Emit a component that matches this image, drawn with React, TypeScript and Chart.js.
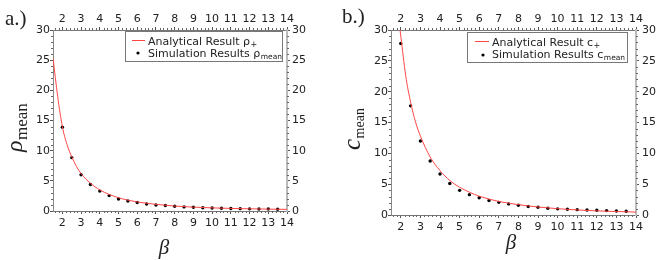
import React, { useEffect, useRef } from "react";
import { Chart, registerables } from "chart.js";
Chart.register(...registerables);

// ---- data ----
const xTickValues = [2, 3, 4, 5, 6, 7, 8, 9, 10, 11, 12, 13, 14];
const yTickValues = [0, 5, 10, 15, 20, 25, 30];

const betaSim = [2, 2.5, 3, 3.5, 4, 4.5, 5, 5.5, 6, 6.5, 7, 7.5, 8, 8.5, 9, 9.5, 10, 10.5, 11, 11.5, 12, 12.5, 13, 13.5];
const rhoSim = [13.9, 8.85, 6.0, 4.4, 3.3, 2.55, 2.0, 1.65, 1.42, 1.15, 1.0, 0.9, 0.78, 0.68, 0.62, 0.55, 0.5, 0.46, 0.42, 0.39, 0.36, 0.34, 0.32, 0.3];
const cSim = [27.8, 17.7, 12.0, 8.76, 6.65, 5.1, 4.0, 3.3, 2.8, 2.35, 2.05, 1.8, 1.57, 1.37, 1.25, 1.1, 1.0, 0.93, 0.87, 0.82, 0.76, 0.71, 0.66, 0.62];

const betaLineA = [1.5, 1.75, 2, 2.25, 2.5, 2.75, 3, 3.5, 4, 4.5, 5, 5.5, 6, 7, 8, 9, 10, 11, 12, 13, 14];
const rhoLine = [25.4, 19.0, 14.0, 11.0, 9.0, 7.4, 6.2, 4.6, 3.5, 2.75, 2.2, 1.8, 1.5, 1.1, 0.82, 0.64, 0.52, 0.43, 0.36, 0.31, 0.27];

const betaLineB = [1.96, 2, 2.25, 2.5, 2.75, 3, 3.5, 4, 4.5, 5, 5.5, 6, 7, 8, 9, 10, 11, 12, 13, 14];
const cLine = [30, 29.0, 22.6, 18.3, 15.1, 12.8, 9.4, 7.2, 5.6, 4.5, 3.7, 3.05, 2.2, 1.68, 1.3, 1.02, 0.82, 0.67, 0.56, 0.47];

const X_MIN = 1.5;
const X_MAX = 14;
const Y_MIN = 0;
const Y_MAX = 30;
const X_MINOR_STEP = 0.2;
const Y_MINOR_STEP = 1;

const TICK_FONT = { family: "DejaVu Sans", size: 11 };
const TEXT_COLOR = "#222";
const RED = "rgb(255,70,70)";

type Panel = {
  letter: string;
  letterX: number;
  letterY: number;
  sym: string;
  symFont: number;
  subFont: number;
  yTitleX: number;
  yTitleY: number;
  subDy: number;
  betaX: number;
  betaY: number;
  area: { left: number; right: number; top: number; bottom: number };
  leftPad: number;
  rightPad: number;
  legend: { x1: number; y1: number; x2: number; y2: number; sx1: number; sx2: number; sy: number; dotX: number; dotY: number; tx: number; r1: number; r2: number };
  lineX: number[];
  lineY: number[];
  simY: number[];
};

const panels: Panel[] = [
  {
    letter: "a.)", letterX: 5, letterY: 25,
    sym: "ρ", symFont: 24, subFont: 17, yTitleX: 22, yTitleY: 152, subDy: 5,
    betaX: 164, betaY: 254,
    area: { left: 53, right: 287, top: 30, bottom: 211 },
    leftPad: 0, rightPad: 2,
    legend: { x1: 125.5, y1: 31.5, x2: 282.5, y2: 61.5, sx1: 132, sx2: 145, sy: 40.5, dotX: 138, dotY: 53, tx: 148, r1: 45, r2: 57 },
    lineX: betaLineA, lineY: rhoLine, simY: rhoSim,
  },
  {
    letter: "b.)", letterX: 10, letterY: 23,
    sym: "c", symFont: 25, subFont: 14, yTitleX: 28, yTitleY: 150, subDy: 4,
    betaX: 179, betaY: 249,
    area: { left: 59, right: 304, top: 30, bottom: 215 },
    leftPad: 0, rightPad: 3,
    legend: { x1: 135.5, y1: 32.5, x2: 295.5, y2: 62.5, sx1: 143, sx2: 157, sy: 41.5, dotX: 151, dotY: 55, tx: 160, r1: 45.5, r2: 58 },
    lineX: betaLineB, lineY: cLine, simY: cSim,
  },
];

const W = 332;
const H = 260;

function drawSub(ctx: CanvasRenderingContext2D, main: string, sub: string, x: number, y: number, mainFont: string, subFont: string, dy: number) {
  ctx.font = mainFont;
  ctx.fillText(main, x, y);
  const w = ctx.measureText(main).width;
  ctx.font = subFont;
  ctx.fillText(sub, x + w + 0.5, y + dy);
}

function makePlugin(p: Panel) {
  return {
    id: "decor",
    afterDraw(chart: any) {
      const ctx: CanvasRenderingContext2D = chart.ctx;
      const xs = chart.scales.x;
      const ys = chart.scales.y;
      const a = chart.chartArea;
      ctx.save();
      // minor ticks
      ctx.strokeStyle = "#666";
      ctx.lineWidth = 1;
      ctx.beginPath();
      const iStart = Math.ceil(X_MIN / X_MINOR_STEP - 1e-6);
      const iEnd = Math.floor(X_MAX / X_MINOR_STEP + 1e-6);
      for (let i = iStart; i <= iEnd; i++) {
        if (i % 5 === 0) continue;
        const px = Math.round(xs.getPixelForValue(i * X_MINOR_STEP)) + 0.5;
        ctx.moveTo(px, a.bottom);
        ctx.lineTo(px, a.bottom + 2);
        ctx.moveTo(px, a.top);
        ctx.lineTo(px, a.top - 2);
      }
      for (let v = Y_MIN; v <= Y_MAX; v += Y_MINOR_STEP) {
        if (v % 5 === 0) continue;
        const py = Math.round(ys.getPixelForValue(v)) + 0.5;
        ctx.moveTo(a.left, py);
        ctx.lineTo(a.left - 2, py);
        ctx.moveTo(a.right, py);
        ctx.lineTo(a.right + 2, py);
      }
      ctx.stroke();

      ctx.fillStyle = TEXT_COLOR;
      ctx.textAlign = "left";
      ctx.textBaseline = "alphabetic";
      // panel letter
      ctx.font = "21px 'Liberation Serif'";
      ctx.fillText(p.letter, p.letterX, p.letterY);
      // x title
      ctx.font = "italic 21px 'Liberation Serif'";
      ctx.textAlign = "center";
      ctx.fillText("β", p.betaX, p.betaY);
      ctx.textAlign = "left";
      // y title
      ctx.save();
      ctx.translate(p.yTitleX, p.yTitleY);
      ctx.rotate(-Math.PI / 2);
      drawSub(ctx, p.sym, "mean", 0, 0, `italic ${p.symFont}px 'Liberation Serif'`, `${p.subFont}px 'Liberation Serif'`, p.subDy);
      ctx.restore();

      // legend
      const L = p.legend;
      ctx.fillStyle = "#fff";
      ctx.fillRect(L.x1, L.y1, L.x2 - L.x1, L.y2 - L.y1);
      ctx.strokeStyle = "#777";
      ctx.lineWidth = 1;
      ctx.strokeRect(L.x1, L.y1, L.x2 - L.x1, L.y2 - L.y1);
      ctx.strokeStyle = RED;
      ctx.beginPath();
      ctx.moveTo(L.sx1, L.sy);
      ctx.lineTo(L.sx2, L.sy);
      ctx.stroke();
      ctx.fillStyle = "#000";
      ctx.beginPath();
      ctx.arc(L.dotX, L.dotY, 1.6, 0, Math.PI * 2);
      ctx.fill();
      ctx.fillStyle = TEXT_COLOR;
      drawSub(ctx, "Analytical Result " + p.sym, "+", L.tx, L.r1, "11px 'DejaVu Sans'", "8px 'DejaVu Sans'", 2);
      drawSub(ctx, "Simulation Results " + p.sym, "mean", L.tx, L.r2, "11px 'DejaVu Sans'", "7.5px 'DejaVu Sans'", 1.5);
      ctx.restore();
    },
  };
}

function axis(position: string, size: number, pad: number, isX: boolean, borderColor: string, borderWidth: number) {
  return {
    type: "linear",
    position,
    min: isX ? X_MIN : Y_MIN,
    max: isX ? X_MAX : Y_MAX,
    afterBuildTicks: (s: any) => {
      s.ticks = (isX ? xTickValues : yTickValues).map((v) => ({ value: v }));
    },
    afterFit: (s: any) => {
      if (isX) s.height = size;
      else s.width = size;
    },
    ticks: {
      font: TICK_FONT,
      color: TEXT_COLOR,
      padding: pad,
      maxRotation: 0,
      minRotation: 0,
      autoSkip: false,
      callback: (v: any) => String(v),
    },
    grid: { drawOnChartArea: false, drawTicks: true, tickLength: 3, color: "#555" },
    border: { display: true, color: borderColor, width: borderWidth },
  };
}

function PanelChart({ p }: { p: Panel }) {
  const ref = useRef<HTMLCanvasElement>(null);
  useEffect(() => {
    if (!ref.current) return;
    const a = p.area;
    const chart = new Chart(ref.current, {
      type: "scatter",
      data: {
        datasets: [
          {
            type: "line",
            label: "Analytical",
            data: p.lineX.map((x, i) => ({ x, y: p.lineY[i] })),
            borderColor: RED,
            borderWidth: 1,
            pointRadius: 0,
            cubicInterpolationMode: "monotone",
            fill: false,
          } as any,
          {
            type: "scatter",
            label: "Simulation",
            data: betaSim.map((x, i) => ({ x, y: p.simY[i] })),
            backgroundColor: "#000",
            borderColor: "#000",
            pointRadius: 1.7,
            pointBorderWidth: 0,
          },
        ],
      },
      options: {
        animation: false,
        responsive: false,
        layout: { padding: 0 },
        plugins: { legend: { display: false }, tooltip: { enabled: false }, title: { display: false } },
        scales: {
          x: axis("bottom", H - a.bottom, 3, true, "#777", 1),
          x2: axis("top", a.top, 1, true, "#777", 1),
          y: axis("left", a.left, p.leftPad, false, "#888", 1),
          y2: axis("right", W - a.right, p.rightPad, false, "#bbb", 2),
        } as any,
      },
      plugins: [makePlugin(p)],
    } as any);
    return () => chart.destroy();
  }, [p]);
  return <canvas ref={ref} width={W} height={H} style={{ width: W, height: H, display: "block" }} />;
}

export default function App() {
  return (
    <div style={{ position: "fixed", left: 0, top: 0, width: 664, height: 260, background: "#fff", display: "flex" }}>
      {panels.map((p, i) => (
        <PanelChart key={i} p={p} />
      ))}
    </div>
  );
}
